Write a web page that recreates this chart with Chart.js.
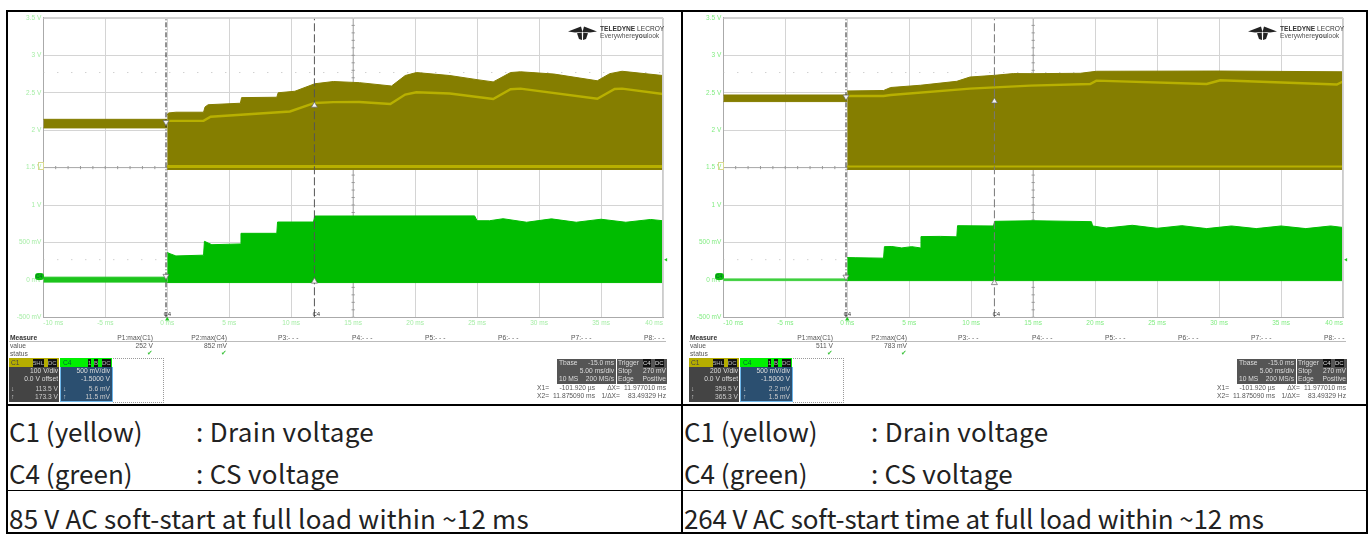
<!DOCTYPE html>
<html>
<head>
<meta charset="utf-8">
<script src="https://cdn.jsdelivr.net/npm/chart.js@4/dist/chart.umd.js"></script>
<style>
  html, body { margin: 0; padding: 0; background: #fff; }
  body { width: 1370px; height: 535px; position: relative; overflow: hidden; font-family: "Liberation Sans", Arial, sans-serif; }
  .rule { position: absolute; background: #000; }
  .txt { position: absolute; font-family: "Noto Sans CJK SC", "Noto Sans", sans-serif; font-size: 26px; line-height: 28px; color: #222; white-space: nowrap; }
  .scope { position: absolute; left: 0; top: 0; width: 680px; height: 405px; filter: blur(0.55px); }
  .scope canvas { position: absolute; left: 8px; top: 12px; }
  .s { position: absolute; font-size: 6.7px; line-height: 8px; color: #555; white-space: nowrap; }
  .r { text-align: right; }
  .box { position: absolute; }
  .tag { position: absolute; background: #0fbf0f; color: #063; border-radius: 3px; font-size: 5px; line-height: 7px; width: 9px; height: 7px; text-align: center; }
</style>
</head>
<body>
<div class="rule" style="left:6px;top:10px;width:1361px;height:2px"></div>
<div class="rule" style="left:6px;top:404px;width:1361px;height:2px"></div>
<div class="rule" style="left:7px;top:490px;width:1360px;height:1px"></div>
<div class="rule" style="left:7px;top:532px;width:1360px;height:2px"></div>
<div class="rule" style="left:6px;top:10px;width:2px;height:524px"></div>
<div class="rule" style="left:681px;top:10px;width:2px;height:524px"></div>
<div class="rule" style="left:1366px;top:10px;width:2px;height:524px"></div>

<div class="scope" id="left_scope"><canvas id="left_chart" width="668" height="318"></canvas></div>
<div class="scope" id="right_scope" style="left:680px"><canvas id="right_chart" width="668" height="318"></canvas></div>

<div class="txt" style="left:9px;top:417px">C1 (yellow)</div>
<div class="txt" style="left:196px;top:417px;letter-spacing:.35px">: Drain voltage</div>
<div class="txt" style="left:9px;top:459px">C4 (green)</div>
<div class="txt" style="left:196px;top:459px;letter-spacing:.35px">: CS voltage</div>
<div class="txt" style="left:9px;top:504px;letter-spacing:.2px">85 V AC soft-start at full load within ~12 ms</div>
<div class="txt" style="left:684px;top:417px">C1 (yellow)</div>
<div class="txt" style="left:871px;top:417px;letter-spacing:.3px">: Drain voltage</div>
<div class="txt" style="left:684px;top:459px">C4 (green)</div>
<div class="txt" style="left:871px;top:459px;letter-spacing:.2px">: CS voltage</div>
<div class="txt" style="left:684px;top:504px;letter-spacing:-.13px">264 V AC soft-start time at full load within ~12 ms</div>

<script>
// time axis and voltage axis labels
const x_tick_labels = ['-10 ms', '-5 ms', '0 ms', '5 ms', '10 ms', '15 ms', '20 ms', '25 ms', '30 ms', '35 ms', '40 ms'];
const y_tick_labels = ['-500 mV', '0 mV', '500 mV', '1 V', '1.5 V', '2 V', '2.5 V', '3 V', '3.5 V'];
const cursor_times = [-0.1, 11.875];
const trigger_level = [0.27];

// 85 V AC : C1 drain
const left_c1_pre_t = [-10, 0];
const left_c1_pre_high = [2.145, 2.145];
const left_c1_pre_low = [2.03, 2.03];
const left_c1_top_t = [0, 0.1, 0.7, 2.93, 3.05, 3.3, 5.9, 6, 8.84, 8.95, 10.3, 11.9, 13.4, 15.5, 18.1, 19.2, 20.1, 22.8, 25, 26.3, 27.7, 28.5, 31.2, 34.7, 35.7, 36.7, 40];
const left_c1_top_v = [2.2, 2.23, 2.24, 2.24, 2.31, 2.34, 2.36, 2.435, 2.44, 2.5, 2.52, 2.62, 2.65, 2.635, 2.59, 2.73, 2.77, 2.73, 2.675, 2.645, 2.77, 2.78, 2.75, 2.66, 2.755, 2.787, 2.73];
const left_c1_mean_t = [-0.1, 2.93, 3.5, 9.9, 11.9, 13.4, 15.5, 18, 19.2, 20.1, 22.8, 26.3, 27.7, 28.5, 34.7, 36.1, 36.7, 40];
const left_c1_mean_v = [2.124, 2.124, 2.18, 2.25, 2.364, 2.375, 2.377, 2.35, 2.476, 2.507, 2.49, 2.417, 2.547, 2.555, 2.42, 2.55, 2.555, 2.484];
// 85 V AC : C4 current sense
const left_c4_pre_t = [-10, 0];
const left_c4_pre_high = [0.036, 0.036];
const left_c4_pre_low = [-0.03, -0.03];
const left_c4_top_t = [0, 0.05, 0.7, 2.93, 3, 3.6, 5.9, 5.95, 8.84, 8.9, 11.8, 11.9, 24.8, 25, 26, 27.1, 29, 31, 33, 35, 37, 39, 40];
const left_c4_top_v = [0.364, 0.36, 0.32, 0.33, 0.515, 0.47, 0.48, 0.622, 0.622, 0.773, 0.773, 0.853, 0.855, 0.79, 0.79, 0.817, 0.77, 0.815, 0.77, 0.81, 0.77, 0.807, 0.79];
const left_c4_low_v = [-0.036, -0.036];

// 264 V AC : C1 drain
const right_c1_pre_t = [-10, 0];
const right_c1_pre_high = [2.47, 2.47];
const right_c1_pre_low = [2.382, 2.382];
const right_c1_top_t = [0, 2.93, 3.5, 5.9, 8.84, 9.9, 11.9, 13.4, 15, 18.8, 20.1, 30, 40];
const right_c1_top_v = [2.524, 2.53, 2.57, 2.6, 2.653, 2.71, 2.733, 2.756, 2.755, 2.76, 2.787, 2.79, 2.78];
const right_c1_mean_t = [-0.1, 2.93, 3.5, 9.9, 14.75, 19.6, 20.1, 29, 30.1, 39.5, 40];
const right_c1_mean_v = [2.457, 2.457, 2.47, 2.555, 2.595, 2.617, 2.662, 2.617, 2.667, 2.61, 2.65];
// 264 V AC : C4 current sense
const right_c4_pre_t = [-10, 0];
const right_c4_pre_high = [0.013, 0.013];
const right_c4_pre_low = [-0.01, -0.01];
const right_c4_top_t = [0, 0.7, 2.93, 3, 3.6, 4.4, 5.2, 5.9, 5.95, 7.5, 8.84, 8.9, 11.8, 11.9, 15, 19.7, 19.8, 20.9, 23, 25, 27, 29, 31, 33, 35, 37, 39, 40];
const right_c4_top_v = [0.298, 0.296, 0.29, 0.444, 0.446, 0.427, 0.444, 0.427, 0.578, 0.581, 0.575, 0.724, 0.72, 0.782, 0.79, 0.778, 0.72, 0.693, 0.729, 0.689, 0.724, 0.685, 0.72, 0.685, 0.72, 0.685, 0.72, 0.7];
const right_c4_low_v = [-0.01, -0.01];

// common to both shots
const c1_floor_v = [1.475, 1.475];
const c1_ring_v = [1.515, 1.515];
const post_t = [0, 40];
const c1_dot_level = [2.77];

const axis_ticks_t = [];
for (let i = -10; i <= 40; i++) axis_ticks_t.push(i);
const axis_ticks_v = [];
for (let i = -5; i <= 35; i++) axis_ticks_v.push(i / 10);

function pts(t, v) {
  return t.map(function (a, i) { return { x: a, y: v[i] }; });
}

function band(list, t_top, v_top, t_low, v_low, color) {
  let low_index = list.length + 1;
  list.push({ data: pts(t_top, v_top), borderColor: color, borderWidth: 1, fill: { target: low_index, above: color, below: color } });
  list.push({ data: pts(t_low, v_low), borderColor: color, borderWidth: 1, fill: false });
}

function scope_draw(id, s) {
  let context = document.querySelector(id).getContext('2d');
  let dark = '#857e00', bright = '#b8b000', green = '#00bc00';
  let sets = [];

  // cursor arrows and trigger marks
  sets.push({ data: [{ x: cursor_times[0], y: s.c1_marks[0] }, { x: cursor_times[0], y: s.c4_marks[0] }],
    showLine: false, pointStyle: 'triangle', pointRotation: 180, pointRadius: 3.5, pointBackgroundColor: '#f4f4f4', pointBorderColor: '#666', pointBorderWidth: 0.7, clip: false });
  sets.push({ data: [{ x: cursor_times[1], y: s.c1_marks[1] }, { x: cursor_times[1], y: s.c4_marks[1] }],
    showLine: false, pointStyle: 'triangle', pointRadius: 3.5, pointBackgroundColor: '#f4f4f4', pointBorderColor: '#666', pointBorderWidth: 0.7, clip: false });
  sets.push({ data: [{ x: 40.25, y: trigger_level[0] }], showLine: false, pointStyle: 'triangle', pointRotation: -90, pointRadius: 2, pointBackgroundColor: '#1ecb1e', pointBorderWidth: 0, clip: false });
  sets.push({ data: [{ x: 0, y: -0.525 }], showLine: false, pointStyle: 'triangle', pointRadius: 2.5, pointBackgroundColor: '#1ecb1e', pointBorderWidth: 0, clip: false });

  // cursors
  sets.push({ data: pts([cursor_times[0], cursor_times[0]], [-0.5, 3.5]), borderColor: '#222', borderWidth: 1, borderDash: [5, 2, 1, 2] });
  sets.push({ data: pts([cursor_times[1], cursor_times[1]], [-0.5, 3.5]), borderColor: s.x2_color, borderWidth: 1, borderDash: [8, 3] });

  // mean lines of C1
  sets.push({ data: pts(s.c1_mean_t, s.c1_mean_v), borderColor: bright, borderWidth: 2.4 });
  sets.push({ data: pts(post_t, c1_ring_v), borderColor: bright, borderWidth: s.ring_width });

  // traces
  band(sets, s.c1_top_t, s.c1_top_v, post_t, c1_floor_v, dark);
  band(sets, s.c1_pre_t, s.c1_pre_high, s.c1_pre_t, s.c1_pre_low, dark);
  band(sets, s.c4_top_t, s.c4_top_v, post_t, s.c4_low_v, green);
  band(sets, s.c4_pre_t, s.c4_pre_high, s.c4_pre_t, s.c4_pre_low, s.c4_pre_color);

  // ticked centre axes
  sets.push({ data: axis_ticks_t.map(function (t) { return { x: t, y: 1.5 }; }), showLine: false, pointStyle: 'line', pointRotation: 90, pointRadius: 1.6, pointBorderColor: '#999', pointBorderWidth: 1 });
  sets.push({ data: axis_ticks_v.map(function (v) { return { x: 15, y: v }; }), showLine: false, pointStyle: 'line', pointRadius: 1.6, pointBorderColor: '#999', pointBorderWidth: 1 });
  sets.push({ data: pts([-10, 40], [1.5, 1.5]), borderColor: '#aaa', borderWidth: 1 });
  sets.push({ data: pts([15, 15], [-0.5, 3.5]), borderColor: '#aaa', borderWidth: 1 });

  // measure and trigger level dots
  sets.push({ data: pts([-10, 40], [c1_dot_level[0], c1_dot_level[0]]), borderColor: '#bbb', borderWidth: 1, borderDash: [1, 13] });
  sets.push({ data: pts([-10, 40], [trigger_level[0], trigger_level[0]]), borderColor: '#bbb', borderWidth: 1, borderDash: [1, 13] });

  new Chart(context, {
    type: 'line',
    data: { datasets: sets },
    options: {
      responsive: false,
      animation: false,
      layout: { padding: { top: 5, right: 13, left: 0, bottom: 0 } },
      elements: { point: { radius: 0 }, line: { tension: 0 } },
      plugins: { legend: { display: false }, tooltip: { enabled: false } },
      scales: {
        x: {
          type: 'linear', min: -10, max: 40,
          afterFit: function (axis) { axis.height = 12.7; },
          afterBuildTicks: function (axis) { axis.ticks = x_tick_labels.map(function (l, i) { return { value: -10 + i * 5 }; }); },
          border: { color: '#aaa', width: 1 },
          grid: { color: '#d4d4d4', lineWidth: 1, drawTicks: false },
          ticks: {
            color: s.label_color, padding: 2, align: 'inner', maxRotation: 0, autoSkip: false,
            font: { family: 'Liberation Sans', size: 6.5 },
            callback: function (v, i) { return x_tick_labels[i]; }
          }
        },
        y: {
          min: -0.5, max: 3.5,
          afterFit: function (axis) { axis.width = 35.3; },
          afterBuildTicks: function (axis) { axis.ticks = y_tick_labels.map(function (l, i) { return { value: -0.5 + i * 0.5 }; }); },
          border: { color: '#aaa', width: 1 },
          grid: { color: '#d4d4d4', lineWidth: 1, drawTicks: false },
          ticks: {
            color: s.label_color, padding: 2, align: 'inner', autoSkip: false,
            font: { family: 'Liberation Sans', size: 6.5 },
            callback: function (v, i) { return y_tick_labels[i]; }
          }
        }
      }
    },
    plugins: [{
      id: 'frame',
      afterDraw: function (chart) {
        let a = chart.chartArea, c = chart.ctx;
        c.save();
        c.strokeStyle = '#ccc';
        c.lineWidth = 1;
        c.beginPath();
        c.moveTo(a.left, a.top + 0.5);
        c.lineTo(a.right - 0.5, a.top + 0.5);
        c.lineTo(a.right - 0.5, a.bottom);
        c.stroke();
        c.restore();
      }
    }]
  });
}

// readout panel below a plot, all real text
function panel_draw(id, r) {
  let box = document.querySelector(id);
  let h = '';
  function s(left, top, text, extra) { h += '<div class="s" style="left:' + left + 'px;top:' + top + 'px;' + (extra || '') + '">' + text + '</div>'; }
  function e(right, top, text, extra) { h += '<div class="s r" style="right:' + (680 - right) + 'px;top:' + top + 'px;' + (extra || '') + '">' + text + '</div>'; }

  s(10, 334, 'Measure', 'font-weight:bold;color:#333');
  h += '<div class="box" style="left:9px;top:341px;width:657px;height:1px;background:#bbb"></div>';
  e(153, 333.5, 'P1:max(C1)'); e(227, 333.5, 'P2:max(C4)');
  s(278, 333.5, 'P3:- - -'); s(352, 333.5, 'P4:- - -'); s(425, 333.5, 'P5:- - -');
  s(498, 333.5, 'P6:- - -'); s(571, 333.5, 'P7:- - -'); s(644, 333.5, 'P8:- - -');
  s(10, 342, 'value'); e(153, 342, r.p1); e(227, 342, r.p2);
  s(10, 350, 'status');
  s(147, 349, '\u2714', 'color:#3ec23e;font-family:DejaVu Sans'); s(221, 349, '\u2714', 'color:#3ec23e;font-family:DejaVu Sans');

  // channel boxes
  h += '<div class="box" style="left:9px;top:358px;width:50px;height:8.5px;background:#b5ad00"></div>';
  h += '<div class="box" style="left:9px;top:366.5px;width:50px;height:35px;background:#444"></div>';
  s(11, 358.5, 'C1', 'color:#444');
  s(33, 358.5, '5HL', 'color:#bbb;background:#111;font-size:6px'); s(48, 358.5, 'DC', 'color:#bbb;background:#111;font-size:6px');
  e(58, 367, r.c1_div, 'color:#ddd'); e(58, 375, '0.0 V offset', 'color:#ddd');
  e(58, 385, r.c1_a, 'color:#ccc'); e(58, 393, r.c1_b, 'color:#ccc');
  s(11, 385, '\u2193', 'color:#ccc'); s(11, 393, '\u2191', 'color:#ccc');

  h += '<div class="box" style="left:60px;top:358px;width:52px;height:8.5px;background:#00f000"></div>';
  h += '<div class="box" style="left:60px;top:366.5px;width:50.5px;height:34px;background:#2b4f70;border:0.7px solid #6cb4e8;border-top:0"></div>';
  s(63, 358.5, 'C4', 'color:#063');
  s(88, 358.5, '1', 'color:#bbb;background:#111;font-size:6px'); s(94, 358.5, 'B', 'color:#bbb;background:#111;font-size:6px'); s(102, 358.5, 'DC', 'color:#bbb;background:#111;font-size:6px');
  e(110, 367, '500 mV/div', 'color:#ddd'); e(110, 375, '-1.5000 V', 'color:#ddd');
  e(110, 385, r.c4_a, 'color:#ccc'); e(110, 393, r.c4_b, 'color:#ccc');
  s(63, 385, '\u2193', 'color:#ccc'); s(63, 393, '\u2191', 'color:#ccc');
  h += '<div class="box" style="left:112.5px;top:358px;width:50px;height:42.5px;border:1px dotted #999;border-left:0"></div>';

  // timebase and trigger
  h += '<div class="box" style="left:557px;top:358.5px;width:58.5px;height:25px;background:#555"></div>';
  h += '<div class="box" style="left:616.5px;top:358.5px;width:50.5px;height:25px;background:#555"></div>';
  s(559, 359, 'Tbase', 'color:#ddd'); e(614, 359, '-15.0 ms', 'color:#ddd');
  e(614, 367, '5.00 ms/div', 'color:#ddd');
  s(559, 375, '10 MS', 'color:#ddd'); e(614, 375, '200 MS/s', 'color:#ddd');
  s(618, 359, 'Trigger', 'color:#ddd');
  s(643, 359, 'C4', 'color:#ddd;background:#111;font-size:6px'); s(655, 359, 'DC', 'color:#ddd;background:#111;font-size:6px');
  s(618, 367, 'Stop', 'color:#ddd'); e(666, 367, '270 mV', 'color:#ddd');
  s(618, 375, 'Edge', 'color:#ddd'); e(666, 375, 'Positive', 'color:#ddd');
  s(537, 384, 'X1='); e(595, 384, '-101.920 \u00b5s');
  s(537, 392, 'X2='); e(595, 392, '11.875090 ms');
  e(620, 384, '\u0394X='); e(666, 384, '11.977010 ms');
  e(620, 392, '1/\u0394X='); e(666, 392, '83.49329 Hz');

  // cursor captions and channel tags
  s(163.5, 309.5, 'C4', 'font-size:6px;color:#333'); s(312.5, 309.5, 'C4', 'font-size:6px;color:#333');
  h += '<div class="tag" style="left:34.5px;top:272.5px">C4</div>';
  h += '<div class="box" style="left:38px;top:162px;width:4px;height:6px;border:1px solid #d8d890"></div>';

  // logo
  h += '<svg class="box" style="left:568px;top:24.5px" width="30" height="16" viewBox="0 0 30 16"><g fill="#222">' +
    '<polygon points="0,6.5 13,1.5 14.5,7 7,7.5"/><polygon points="29,6.5 16,1.5 14.5,7 22,7.5"/>' +
    '<polygon points="9,8.2 13.8,7.6 14,15 11,14"/><polygon points="20,8.2 15.2,7.6 15,15 18,14"/></g></svg>';
  s(600, 24.5, 'TELEDYNE <span style="font-weight:normal">LECROY</span>', 'font-weight:bold;color:#333;font-size:7.6px;transform:scaleX(.87);transform-origin:left');
  s(600, 32, 'Everywhere<b>you</b>look', 'color:#555;font-size:7px;transform:scaleX(.95);transform-origin:left');

  box.insertAdjacentHTML('beforeend', h);
}

window.onload = function () {
  scope_draw('#left_chart', {
    c1_pre_t: left_c1_pre_t, c1_pre_high: left_c1_pre_high, c1_pre_low: left_c1_pre_low,
    c1_top_t: left_c1_top_t, c1_top_v: left_c1_top_v,
    c1_mean_t: left_c1_mean_t, c1_mean_v: left_c1_mean_v,
    c4_pre_t: left_c4_pre_t, c4_pre_high: left_c4_pre_high, c4_pre_low: left_c4_pre_low,
    c4_top_t: left_c4_top_t, c4_top_v: left_c4_top_v, c4_low_v: left_c4_low_v,
    c1_marks: [2.107, 2.33], c4_marks: [0.05, -0.02],
    x2_color: '#555', ring_width: 3, c4_pre_color: '#1cc41c', label_color: '#a6eda6'
  });
  scope_draw('#right_chart', {
    c1_pre_t: right_c1_pre_t, c1_pre_high: right_c1_pre_high, c1_pre_low: right_c1_pre_low,
    c1_top_t: right_c1_top_t, c1_top_v: right_c1_top_v,
    c1_mean_t: right_c1_mean_t, c1_mean_v: right_c1_mean_v,
    c4_pre_t: right_c4_pre_t, c4_pre_high: right_c4_pre_high, c4_pre_low: right_c4_pre_low,
    c4_top_t: right_c4_top_t, c4_top_v: right_c4_top_v, c4_low_v: right_c4_low_v,
    c1_marks: [2.445, 2.387], c4_marks: [0.04, -0.04],
    x2_color: '#777', ring_width: 2, c4_pre_color: '#3fcf3f', label_color: '#80ec80'
  });
  panel_draw('#left_scope', { p1: '252 V', p2: '852 mV', c1_div: '100 V/div', c1_a: '113.5 V', c1_b: '173.3 V', c4_a: '5.6 mV', c4_b: '11.5 mV' });
  panel_draw('#right_scope', { p1: '511 V', p2: '783 mV', c1_div: '200 V/div', c1_a: '359.5 V', c1_b: '365.3 V', c4_a: '2.2 mV', c4_b: '1.5 mV' });
};
</script>
</body>
</html>
